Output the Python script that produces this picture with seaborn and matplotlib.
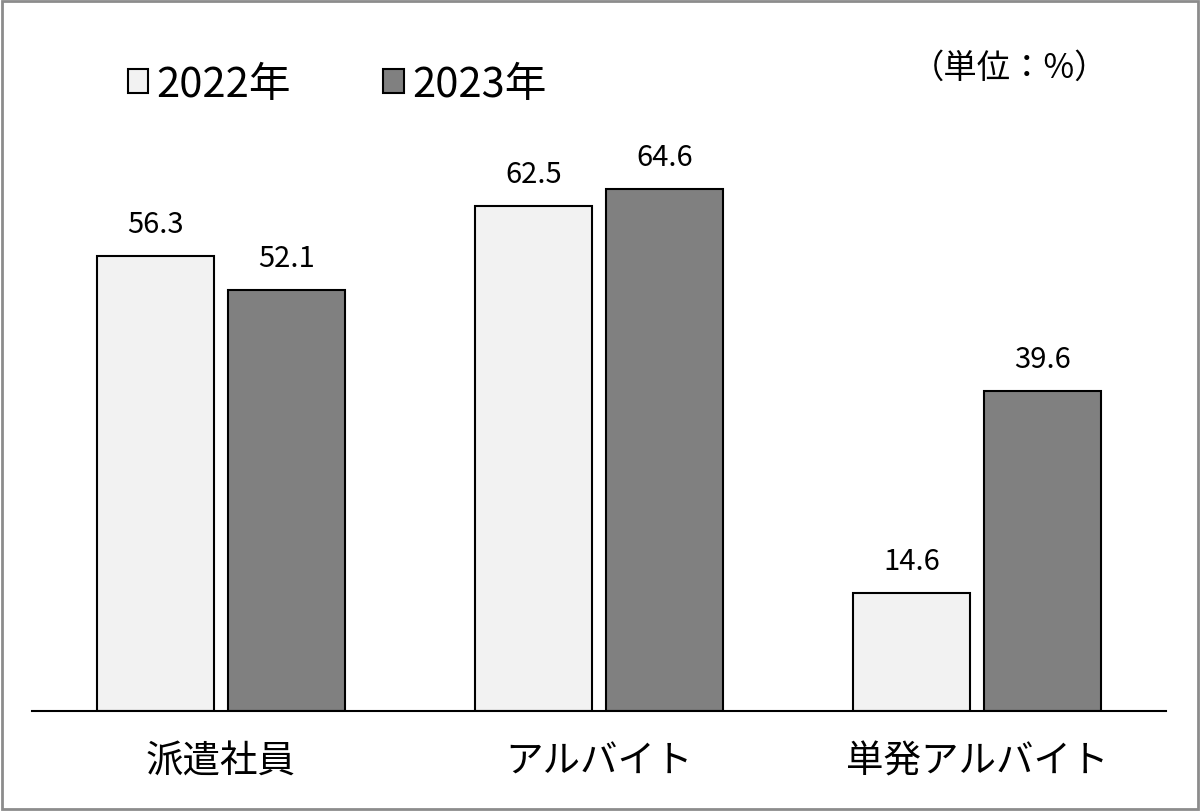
import matplotlib
matplotlib.use("Agg")
import matplotlib.pyplot as plt
import matplotlib.patches as mpatches
import seaborn as sns
import pandas as pd

plt.rcParams["font.family"] = "Noto Sans CJK JP"

categories = ["派遣社員", "アルバイト", "単発アルバイト"]
years = ["2022年", "2023年"]
values_2022 = [56.3, 62.5, 14.6]
values_2023 = [52.1, 64.6, 39.6]

df = pd.DataFrame({
    "cat": categories * 2,
    "year": [years[0]] * 3 + [years[1]] * 3,
    "val": values_2022 + values_2023,
})

fig = plt.figure(figsize=(12, 8.12), dpi=100)
ax = fig.add_axes([32 / 1200, 100 / 812, 1134 / 1200, 612 / 812])

sns.barplot(data=df, x="cat", y="val", hue="year", order=categories,
            palette=["#f2f2f2", "#808080"], width=0.693, gap=0.105,
            edgecolor="black", linewidth=1.5, ax=ax)

for c in ax.containers:
    ax.bar_label(c, fmt="%.1f", padding=12, fontsize=21)

ax.set_xlim(-0.5, 2.5)
ax.set_ylim(0, 75.7)
ax.set_xlabel("")
ax.set_ylabel("")
ax.set_yticks([])
for s in ["top", "left", "right"]:
    ax.spines[s].set_visible(False)
ax.spines["bottom"].set_linewidth(1.5)
ax.tick_params(axis="x", length=0, labelsize=27, pad=22)

handles, labels = ax.get_legend_handles_labels()
ax.legend(handles, labels, loc="upper left", bbox_to_anchor=(90 / 1200, 785 / 812),
          bbox_transform=fig.transFigure, ncol=2, frameon=False, fontsize=30,
          handlelength=0.5, handleheight=0.5, handletextpad=0.2, columnspacing=2.2)

fig.text(1010 / 1200, 1 - 68 / 812, "（単位：%）", fontsize=24, ha="center", va="center")

fig.patches.append(mpatches.Rectangle((0.002, 0.003), 0.996, 0.994, transform=fig.transFigure,
                                      fill=False, edgecolor="#8c8c8c", linewidth=2))

fig.savefig("out.png", dpi=100)
